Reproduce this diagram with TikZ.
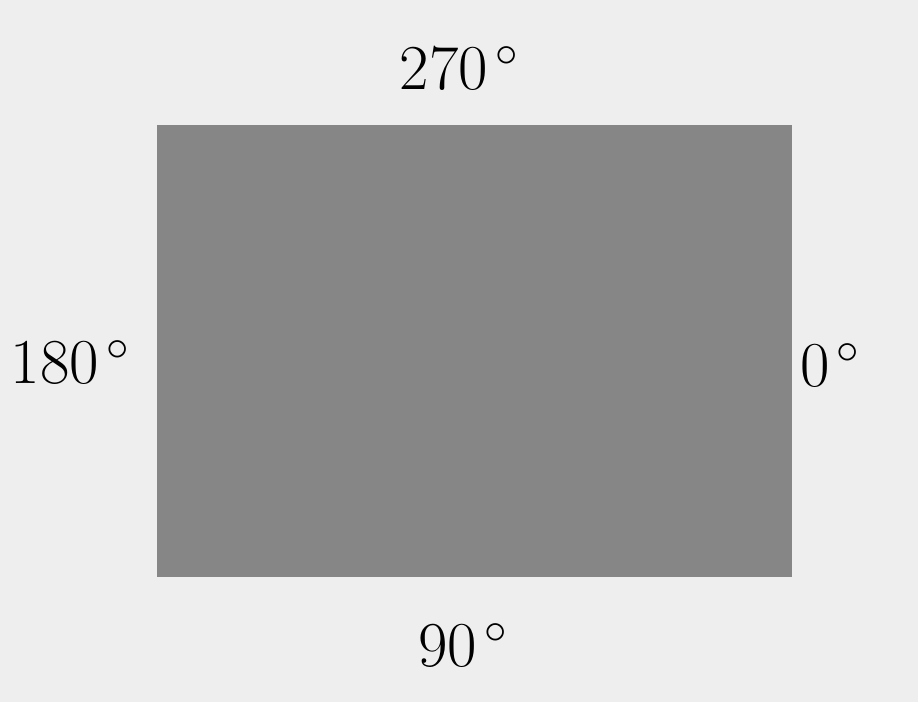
\RequirePackage{fix-cm}
\documentclass[tikz,border=0pt]{standalone}
\begin{document}
\begin{tikzpicture}[x=1pt,y=-1pt,
  lbl/.style={inner sep=0pt,font=\fontsize{64}{70}\selectfont}]
\definecolor{bg}{HTML}{EEEEEE}
\definecolor{box}{HTML}{868686}
\fill[bg] (0,0) rectangle (918,702);
\useasboundingbox (0,0) rectangle (918,702);
\node[fill=box,inner sep=0pt,minimum width=635pt,minimum height=452pt,anchor=north west] (r) at (157,125) {};
\node[lbl] (t) at (459,68) {$270^{\,\circ}$};
\node[lbl] (l) at (70,362) {$180^{\,\circ}$};
\node[lbl] (rr) at (830,365) {$0^{\,\circ}$};
\node[lbl] (b) at (463,645) {$90^{\,\circ}$};
\end{tikzpicture}
\end{document}
